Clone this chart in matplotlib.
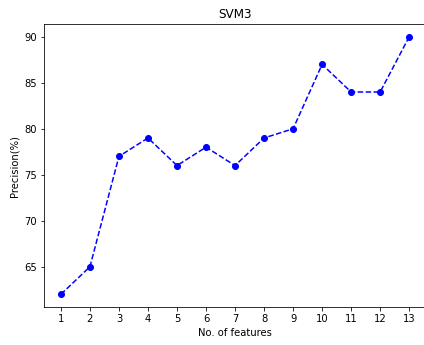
import matplotlib
matplotlib.use("Agg")
import matplotlib.pyplot as plt

features = [1, 2, 3, 4, 5, 6, 7, 8, 9, 10, 11, 12, 13]
precision = [62, 65, 77, 79, 76, 78, 76, 79, 80, 87, 84, 84, 90]

fig = plt.figure(figsize=(424 / 72, 345 / 72), dpi=72)
ax = fig.add_axes([0.1026, 0.1096, 0.9035, 0.821])
ax.plot(features, precision, "bo--")  #Blue dashed line with dots
ax.set_xticks(features)
ax.spines["right"].set_visible(False)  #Right edge is cropped off in the original
ax.set_title("SVM3")
ax.set_xlabel("No. of features")
ax.set_ylabel("Precision(%)")
fig.savefig("out.png", dpi=72)
